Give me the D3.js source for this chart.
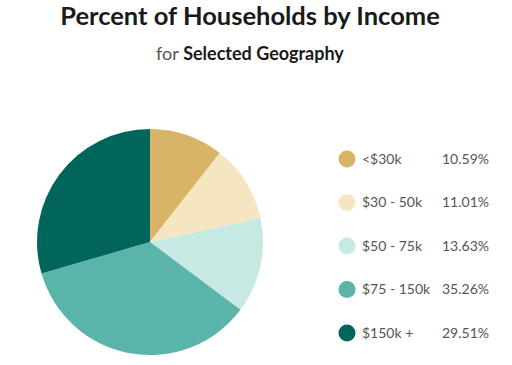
<!DOCTYPE html>
<html><head><meta charset="utf-8">
<script src="https://cdn.jsdelivr.net/npm/d3@7"></script>
<style>html,body{margin:0;padding:0;background:#fff;}svg{display:block;}</style>
</head><body>
<script>
const categories = ["<$30k", "$30 - 50k", "$50 - 75k", "$75 - 150k", "$150k +"];
const values = [10.59, 11.01, 13.63, 35.26, 29.51];
const valueLabels = ["10.59%", "11.01%", "13.63%", "35.26%", "29.51%"];
const colors = ["#D8B466", "#F5E5C1", "#C7E9E4", "#5BB4AA", "#00665B"];
const title = "Percent of Households by Income";
const subtitleLight = "for ";
const subtitleBold = "Selected Geography";

const W = 512, H = 365;
const svg = d3.select("body").append("svg").attr("width", W).attr("height", H);

svg.append("text").attr("x", 250).attr("y", 25).attr("text-anchor", "middle")
  .attr("font-family", "Lato, 'Noto Sans', sans-serif").attr("font-weight", 700)
  .attr("font-size", 25.5).attr("fill", "#1a1a1a").text(title);

const st = svg.append("text").attr("x", 250).attr("y", 60).attr("text-anchor", "middle")
  .attr("font-family", "Lato, 'Noto Sans', sans-serif").attr("font-size", 18);
st.append("tspan").attr("fill", "#555").attr("font-weight", 400).text(subtitleLight);
st.append("tspan").attr("fill", "#1a1a1a").attr("font-weight", 700).text(subtitleBold);

const data = categories.map((c, i) => ({cat: c, value: values[i], label: valueLabels[i], color: colors[i]}));
const pie = d3.pie().sort(null).value(d => d.value);
const arc = d3.arc().innerRadius(0).outerRadius(113);
const g = svg.append("g").attr("transform", "translate(150,242)");
g.selectAll("path").data(pie(data)).join("path")
  .attr("d", arc).attr("fill", d => d.data.color);

const y = d3.scalePoint().domain(categories).range([159, 333]);
const lg = svg.append("g");
const rows = lg.selectAll("g").data(data).join("g")
  .attr("transform", d => `translate(0,${y(d.cat)})`);
rows.append("circle").attr("cx", 347).attr("cy", 0).attr("r", 8.5).attr("fill", d => d.color);
rows.append("text").attr("x", 362).attr("y", 0).attr("dy", "0.35em")
  .attr("font-family", "Lato, 'Noto Sans', sans-serif").attr("font-size", 14)
  .attr("fill", "#555").text(d => d.cat);
rows.append("text").attr("x", 489).attr("y", 0).attr("dy", "0.35em").attr("text-anchor", "end")
  .attr("font-family", "Lato, 'Noto Sans', sans-serif").attr("font-size", 14)
  .attr("fill", "#555").text(d => d.label);
</script>
</body></html>
